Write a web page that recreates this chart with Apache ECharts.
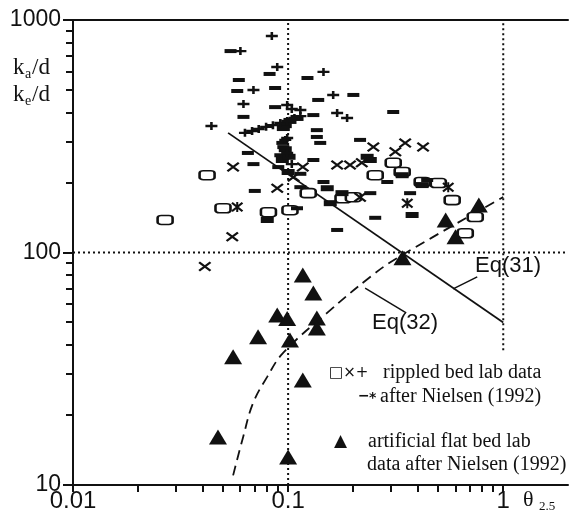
<!DOCTYPE html>
<html>
<head>
<meta charset="utf-8">
<script src="https://cdn.jsdelivr.net/npm/echarts@6/dist/echarts.min.js"></script>
<style>
  html, body { margin: 0; padding: 0; background: #fff; overflow: hidden; }
  #chart { width: 569px; height: 515px; }
</style>
</head>
<body>
<div id="chart"></div>
<script>
// Axis extents and tick values (log-log plot)
const xRange = [0.01, 2];
const yRange = [10, 1000];
const xMinorTicks = [0.02, 0.03, 0.04, 0.05, 0.06, 0.07, 0.08, 0.09, 0.2, 0.3, 0.4, 0.5, 0.6, 0.7, 0.8, 0.9];
const yMinorTicks = [20, 30, 40, 50, 60, 70, 80, 90, 200, 300, 400, 500, 600, 700, 800, 900];

// Dotted reference lines
const vLine01 = [[0.1, 10], [0.1, 1000]];
const vLine1 = [[1, 38], [1, 1000]];
const hLine100 = [[0.01, 100], [2, 100]];

// Rippled bed lab data (theta_2.5, k/d) by marker type
const plusPts = [
  [0.084, 853], [0.060, 735], [0.089, 628], [0.069, 500], [0.062, 435], [0.099, 431], [0.104, 414],
  [0.044, 350], [0.146, 598], [0.162, 476], [0.114, 410], [0.169, 398], [0.188, 379], [0.099, 311],
  [0.063, 327], [0.068, 333], [0.073, 340], [0.079, 347], [0.085, 353], [0.092, 361], [0.099, 368],
  [0.107, 379], [0.114, 386], [0.097, 305], [0.099, 268], [0.104, 240]
];
const dashPts = [
  [0.054, 735], [0.082, 586], [0.059, 552], [0.058, 495], [0.087, 510], [0.062, 383], [0.087, 422],
  [0.123, 563], [0.138, 453], [0.201, 476], [0.131, 390], [0.308, 402], [0.136, 336], [0.136, 314],
  [0.216, 305], [0.065, 268], [0.069, 240], [0.070, 184], [0.141, 296], [0.146, 201], [0.131, 250],
  [0.289, 201], [0.369, 180], [0.254, 141], [0.169, 125], [0.443, 205], [0.241, 180], [0.110, 155],
  [0.095, 284], [0.090, 233], [0.114, 218], [0.114, 191], [0.094, 296], [0.092, 262]
];
const blockPts = [
  [0.080, 138], [0.152, 189], [0.178, 180], [0.157, 163], [0.377, 145], [0.233, 258], [0.094, 250],
  [0.100, 222], [0.241, 250], [0.339, 215], [0.420, 195], [0.102, 368], [0.110, 379], [0.097, 353],
  [0.097, 278], [0.101, 258], [0.095, 343]
];
const crossPts = [
  [0.0555, 233], [0.089, 189], [0.055, 117], [0.041, 87], [0.315, 271], [0.350, 296], [0.424, 284],
  [0.169, 238], [0.194, 238], [0.216, 173], [0.117, 233], [0.106, 211], [0.249, 284], [0.220, 243]
];
const boxPts = [
  [0.0268, 138], [0.042, 215], [0.0498, 155], [0.081, 149], [0.102, 152], [0.308, 243], [0.339, 222],
  [0.254, 215], [0.420, 201], [0.499, 199], [0.579, 168], [0.741, 142], [0.666, 121], [0.180, 171],
  [0.124, 180], [0.201, 173]
];
const starPts = [[0.058, 157], [0.358, 163], [0.555, 191]];

// Artificial flat bed lab data
const flatBedPts = [
  [0.0472, 16.1], [0.0555, 35.6], [0.0725, 43.4], [0.089, 53.8], [0.099, 52], [0.102, 42],
  [0.100, 13.2], [0.117, 28.3], [0.117, 80], [0.131, 67], [0.136, 52.3], [0.136, 47.3],
  [0.34, 95], [0.54, 138], [0.60, 117], [0.77, 160]
];

// Equations (31) and (32)
const eq31Pts = [[0.0526, 327], [1, 50]];
const eq32Pts = [[0.0555, 11], [0.0618, 16.1], [0.0687, 22.5], [0.0798, 29.1], [0.0948, 37],
  [0.1518, 55], [0.2406, 78.5], [0.3213, 94.7], [1, 173]];
const eq31Leader = [[0.585, 69.7], [0.757, 78.5]];
const eq32Leader = [[0.228, 70.3], [0.354, 55]];

// Marker shapes
const PLUS = 'path://M0,3.5H14V6.5H0Z M5.5,0H8.5V10H5.5Z';
const CROSS = 'path://M0,1.5L1.5,0L12,8.5L10.5,10Z M10.5,0L12,1.5L1.5,10L0,8.5Z';
const STAR = 'path://M0,1.5L1.5,0L12,8.5L10.5,10Z M10.5,0L12,1.5L1.5,10L0,8.5Z M5,0H7V10H5Z';

const INK = '#111';
const chart = echarts.init(document.getElementById('chart'), null, { renderer: 'canvas', devicePixelRatio: 1 });

function lineSeries(data, lineStyle, smooth) {
  return {
    type: 'line', data, symbol: 'none', silent: true, animation: false,
    smooth: smooth || false, lineStyle: Object.assign({ color: INK }, lineStyle), z: 2
  };
}
function pointSeries(name, data, symbol, size, itemStyle, z) {
  return {
    type: 'scatter', name, data, symbol, symbolSize: size, silent: true, animation: false,
    itemStyle: Object.assign({ color: INK, opacity: 1 }, itemStyle || {}), z: z || 3
  };
}
function label(x, y, text, font) {
  return { type: 'text', x, y, silent: true, style: { text, font, fill: INK, verticalAlign: 'middle' } };
}

const sans = 'Liberation Sans';
const SERIF23 = '23px "Liberation Serif"';
const SERIF20 = '20px "Liberation Serif"';

const labels = [
  label(13, 68, 'k', SERIF23), label(25, 74, 'a', '14px "Liberation Serif"'), label(32, 68, '/d', SERIF23),
  label(13, 95, 'k', SERIF23), label(25, 101, 'e', '14px "Liberation Serif"'), label(32, 95, '/d', SERIF23),
  label(523, 500, 'θ', '22px "Liberation Serif"'), label(539, 507, '2.5', '13px "Liberation Serif"'),
  label(475, 266, 'Eq(31)', '22px "Liberation Sans"'),
  label(372, 323, 'Eq(32)', '22px "Liberation Sans"'),
  label(329, 373, '□×+', '15px "DejaVu Sans"'),
  label(383, 373, 'rippled bed lab data', SERIF20),
  label(358, 396, '−', 'bold 14px "DejaVu Sans"'),
  label(369, 398, '*', 'bold 14px "DejaVu Sans"'),
  label(380, 397, 'after Nielsen (1992)', SERIF20),
  label(334, 442, '▲', '17px "DejaVu Sans"'),
  label(368, 442, 'artificial flat bed lab', SERIF20),
  label(367, 465, 'data after Nielsen (1992)', SERIF20)
];

chart.setOption({
  backgroundColor: '#fff',
  animation: false,
  grid: { left: 73, top: 20, right: 1, bottom: 30, containLabel: false, outerBoundsMode: 'none' },
  xAxis: [{
    type: 'log', logBase: 10, min: xRange[0], max: xRange[1], position: 'bottom', zlevel: 1,
    axisLine: { show: true, lineStyle: { color: INK, width: 2 } },
    axisTick: { show: true, length: 7, lineStyle: { color: INK, width: 2 } },
    axisLabel: {
      show: true, showMaxLabel: false, fontSize: 24, fontFamily: sans, color: INK, margin: 4,
      formatter: v => String(+(+v).toPrecision(3))
    },
    splitLine: { show: false }, minorTick: { show: false }
  }, {
    type: 'log', logBase: 10, min: xRange[0], max: xRange[1], position: 'top', zlevel: 1,
    axisLine: { show: true, lineStyle: { color: INK, width: 2 } },
    axisTick: { show: false }, axisLabel: { show: false }, splitLine: { show: false }
  }],
  yAxis: [{
    type: 'log', logBase: 10, min: yRange[0], max: yRange[1], position: 'left', zlevel: 1,
    axisLine: { show: true, lineStyle: { color: INK, width: 2 } },
    axisTick: { show: true, length: 10, lineStyle: { color: INK, width: 2 } },
    axisLabel: {
      show: true, fontSize: 23, fontFamily: sans, color: INK, margin: 12,
      formatter: v => String(Math.round(v))
    },
    splitLine: { show: false }, minorTick: { show: false }
  }],
  series: [
    lineSeries(vLine01, { width: 2, type: [2, 3] }),
    lineSeries(vLine1, { width: 2, type: [2, 3] }),
    lineSeries(hLine100, { width: 2, type: [2, 3] }),
    lineSeries(eq31Pts, { width: 1.8 }),
    lineSeries(eq32Pts, { width: 1.8, type: [10, 6] }, 0.4),
    lineSeries(eq31Leader, { width: 1.5 }),
    lineSeries(eq32Leader, { width: 1.5 }),

    pointSeries('box', boxPts, 'roundRect', [15, 9], { color: '#fff', borderColor: INK, borderWidth: 2 }, 3),
    pointSeries('dash', dashPts, 'rect', [12, 4], null, 4),
    pointSeries('block', blockPts, 'rect', [13, 6], null, 4),
    pointSeries('plus', plusPts, PLUS, [12, 8], null, 4),
    pointSeries('cross', crossPts, CROSS, [13, 10], null, 4),
    pointSeries('star', starPts, STAR, [12, 10], null, 4),
    pointSeries('flat bed', flatBedPts, 'triangle', [18, 15], null, 5)
  ]
});

// Minor ticks positioned through the grid's own log scales, on a top layer
const ticks = [];
xMinorTicks.forEach(v => {
  const p = chart.convertToPixel({ xAxisIndex: 0, yAxisIndex: 0 }, [v, yRange[0]]);
  const x = Math.round(p[0]);
  ticks.push({ type: 'rect', silent: true, zlevel: 2, z: 100,
    shape: { x: x - 1, y: p[1], width: 2, height: 7 }, style: { fill: INK } });
});
yMinorTicks.forEach(v => {
  const p = chart.convertToPixel({ xAxisIndex: 0, yAxisIndex: 0 }, [xRange[0], v]);
  const y = Math.round(p[1]);
  ticks.push({ type: 'rect', silent: true, zlevel: 2, z: 100,
    shape: { x: p[0] - 7, y: y - 1, width: 7, height: 2 }, style: { fill: INK } });
});

chart.setOption({ graphic: labels.concat(ticks) });
</script>
</body>
</html>
